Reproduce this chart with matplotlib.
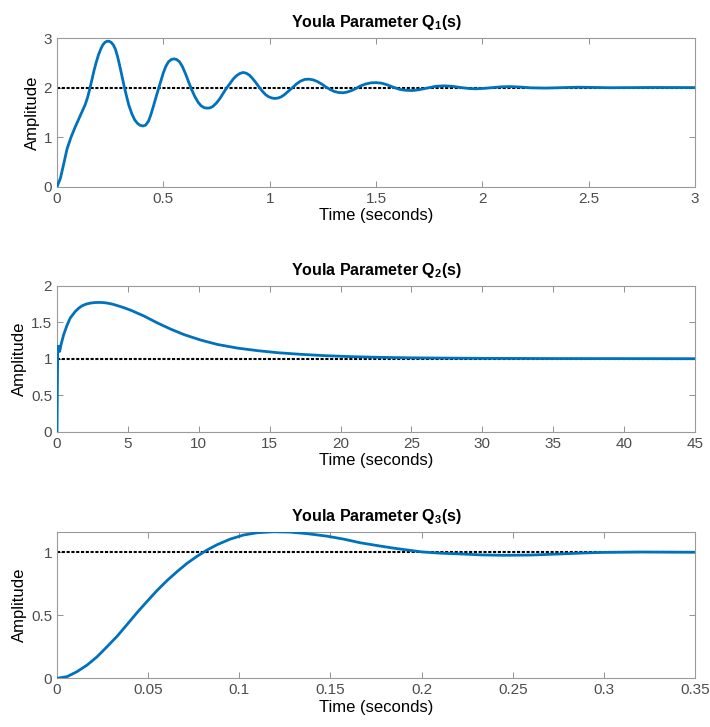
import matplotlib
matplotlib.use('Agg')
import matplotlib.pyplot as plt
from matplotlib.ticker import FuncFormatter

plt.rcParams['font.family'] = ['Liberation Sans', 'DejaVu Sans']
plt.rcParams['mathtext.fontset'] = 'custom'
plt.rcParams['mathtext.rm'] = 'Liberation Sans'
plt.rcParams['mathtext.bf'] = 'Liberation Sans:bold'

# Q1 step response
t1 = [0, 0.016, 0.031, 0.047, 0.066, 0.086, 0.109, 0.133, 0.145, 0.155,
      0.165, 0.175, 0.185, 0.195, 0.205, 0.215, 0.225, 0.235, 0.245, 0.255,
      0.265, 0.275, 0.285, 0.295, 0.305, 0.315, 0.325, 0.338, 0.352, 0.365,
      0.378, 0.39, 0.403, 0.416, 0.43, 0.441, 0.453, 0.465, 0.477, 0.489,
      0.5, 0.512, 0.524, 0.537, 0.55, 0.563, 0.576, 0.59, 0.606, 0.62,
      0.633, 0.648, 0.664, 0.678, 0.692, 0.705, 0.719, 0.733, 0.75, 0.766,
      0.781, 0.797, 0.813, 0.828, 0.844, 0.86, 0.875, 0.89, 0.905, 0.92,
      0.935, 0.95, 0.965, 0.98, 0.995, 1.01, 1.025, 1.04, 1.055, 1.07,
      1.086, 1.105, 1.125, 1.145, 1.165, 1.185, 1.205, 1.225, 1.245, 1.265,
      1.285, 1.305, 1.325, 1.345, 1.365, 1.385, 1.405, 1.425, 1.45, 1.475,
      1.5, 1.525, 1.55, 1.58, 1.61, 1.64, 1.67, 1.7, 1.74, 1.78,
      1.82, 1.86, 1.9, 1.94, 1.97, 2.01, 2.05, 2.09, 2.13, 2.18,
      2.23, 2.3, 2.38, 2.45, 2.52, 2.6, 2.7, 2.8, 3.0]
y1 = [0, 0.17, 0.45, 0.76, 1.0, 1.21, 1.43, 1.66, 1.82, 1.99,
      2.18, 2.36, 2.52, 2.66, 2.77, 2.86, 2.91, 2.935, 2.935, 2.91,
      2.86, 2.77, 2.62, 2.44, 2.24, 2.04, 1.86, 1.64, 1.47, 1.35,
      1.28, 1.24, 1.225, 1.24, 1.32, 1.45, 1.62, 1.8, 1.97, 2.14,
      2.3, 2.43, 2.52, 2.565, 2.58, 2.565, 2.52, 2.42, 2.26, 2.1,
      1.96, 1.82, 1.7, 1.63, 1.595, 1.585, 1.59, 1.62, 1.69, 1.78,
      1.88, 1.99, 2.08, 2.17, 2.24, 2.285, 2.305, 2.29, 2.25, 2.18,
      2.1, 2.01, 1.93, 1.86, 1.815, 1.79, 1.78, 1.79, 1.815, 1.86,
      1.92, 1.99, 2.07, 2.13, 2.165, 2.17, 2.155, 2.12, 2.07, 2.01,
      1.96, 1.92, 1.9, 1.895, 1.91, 1.94, 1.98, 2.03, 2.07, 2.095,
      2.1, 2.09, 2.06, 2.01, 1.965, 1.945, 1.94, 1.955, 1.99, 2.025,
      2.035, 2.025, 2.0, 1.98, 1.975, 1.985, 2.0, 2.015, 2.02, 2.01,
      1.995, 1.99, 2.0, 2.008, 2.003, 1.997, 2.0, 2.002, 2.0]

# Q2 step response
t2 = [0, 0.05, 0.1, 0.19, 0.28, 0.47, 0.71, 0.94, 1.3, 1.55,
      1.77, 2.05, 2.36, 2.65, 2.95, 3.25, 3.54, 3.9, 4.25, 4.7,
      5.19, 6.13, 7.08, 8.02, 8.96, 10.14, 11.32, 12.74, 14.15, 15.57,
      17.2, 18.87, 20.75, 22.9, 25, 27.5, 30, 35, 40, 45]
y2 = [0, 1.17, 1.17, 1.10, 1.19, 1.33, 1.46, 1.56, 1.65, 1.695,
      1.725, 1.748, 1.762, 1.769, 1.771, 1.769, 1.762, 1.748, 1.728, 1.70,
      1.665, 1.585, 1.49, 1.405, 1.33, 1.255, 1.195, 1.145, 1.11, 1.082,
      1.06, 1.042, 1.028, 1.018, 1.012, 1.008, 1.005, 1.002, 1.001, 1.0]

# Q3 step response
t3 = [0, 0.0055, 0.011, 0.0165, 0.022, 0.0274, 0.033, 0.0384, 0.0439, 0.0494,
      0.0549, 0.0604, 0.0659, 0.0714, 0.0768, 0.0823, 0.0878, 0.0951, 0.1024, 0.1098,
      0.119, 0.128, 0.137, 0.148, 0.157, 0.1665, 0.177, 0.185, 0.2, 0.21,
      0.221, 0.233, 0.245, 0.26, 0.275, 0.29, 0.3, 0.32, 0.35]
y3 = [0, 0.013, 0.053, 0.105, 0.171, 0.25, 0.334, 0.426, 0.521, 0.61,
      0.697, 0.776, 0.847, 0.913, 0.968, 1.018, 1.06, 1.105, 1.137, 1.155,
      1.163, 1.16, 1.148, 1.128, 1.105, 1.075, 1.05, 1.032, 1.003, 0.993,
      0.987, 0.979, 0.976, 0.978, 0.986, 0.995, 0.999, 1.002, 1.0]

panels = [
    dict(t=t1, y=y1, final=2, title=r'Youla Parameter $\mathbf{Q_1}$(s)',
         xlim=(0, 3), xticks=[0, 0.5, 1, 1.5, 2, 2.5, 3],
         ylim=(0, 3), yticks=[0, 1, 2, 3],
         pos=[0.0803, 0.7432, 0.8986, 0.2045]),
    dict(t=t2, y=y2, final=1, title=r'Youla Parameter $\mathbf{Q_2}$(s)',
         xlim=(0, 45), xticks=list(range(0, 50, 5)),
         ylim=(0, 2), yticks=[0, 0.5, 1, 1.5, 2],
         pos=[0.0803, 0.4062, 0.8986, 0.2008]),
    dict(t=t3, y=y3, final=1, title=r'Youla Parameter $\mathbf{Q_3}$(s)',
         xlim=(0, 0.35), xticks=[0, 0.05, 0.1, 0.15, 0.2, 0.25, 0.3, 0.35],
         ylim=(0, 1.163), yticks=[0, 0.5, 1],
         pos=[0.0803, 0.067, 0.8986, 0.2016]),
]

fig = plt.figure(figsize=(7.1, 7.27), dpi=100)
fmt = FuncFormatter(lambda v, p: '%g' % round(v, 4))

for p in panels:
    ax = fig.add_axes(p['pos'])
    ax.plot(p['t'], p['y'], color='#0072BD', linewidth=2.0, zorder=3,
            solid_joinstyle='round')
    ax.plot(p['xlim'], [p['final'], p['final']], color='black',
            linestyle=(0, (1.5, 0.8)), linewidth=1.5, zorder=2)
    ax.set_xlim(*p['xlim'])
    ax.set_ylim(*p['ylim'])
    ax.set_xticks(p['xticks'])
    ax.set_yticks(p['yticks'])
    ax.xaxis.set_major_formatter(fmt)
    ax.yaxis.set_major_formatter(fmt)
    ax.tick_params(direction='in', length=4, width=0.6, colors='#808080',
                   labelcolor='#4d4d4d', labelsize=11, top=True, right=True)
    for s in ax.spines.values():
        s.set_color('#9a9a9a')
        s.set_linewidth(0.8)
    ax.set_title(p['title'], fontsize=11.5, fontweight='bold', pad=8)
    ax.set_xlabel('Time (seconds)', fontsize=12, labelpad=2)
    ax.set_ylabel('Amplitude', fontsize=12, labelpad=3)

fig.savefig('out.png', dpi=100)
